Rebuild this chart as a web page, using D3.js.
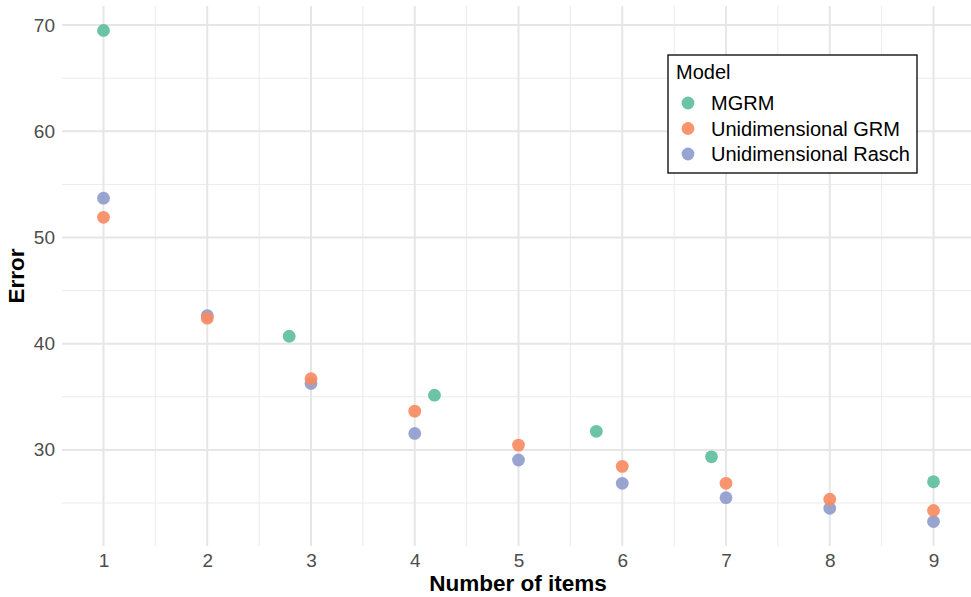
<!DOCTYPE html>
<html>
<head>
<meta charset="utf-8">
<script src="https://cdn.jsdelivr.net/npm/d3@7"></script>
<style>
  html, body { margin: 0; padding: 0; background: #fff; }
  svg { display: block; font-family: "Liberation Sans", Arial, Helvetica, sans-serif; }
</style>
</head>
<body>
<svg id="chart" width="971" height="597"></svg>
<script>
// Series: error by number of items for each model
const seriesNames = ["MGRM", "Unidimensional GRM", "Unidimensional Rasch"];
const seriesColors = ["#5CBE9C", "#F88A5E", "#8E9BCB"];

const mgrmItems  = [1, 2.79, 4.19, 5.75, 6.86, 9];
const mgrmError  = [69.5, 40.7, 35.15, 31.75, 29.35, 27.0];

const grmItems   = [1, 2, 3, 4, 5, 6, 7, 8, 9];
const grmError   = [51.9, 42.4, 36.7, 33.65, 30.45, 28.45, 26.85, 25.35, 24.3];

const raschItems = [1, 2, 3, 4, 5, 6, 7, 8, 9];
const raschError = [53.7, 42.65, 36.25, 31.55, 29.05, 26.85, 25.5, 24.5, 23.25];

const xTicks = [1, 2, 3, 4, 5, 6, 7, 8, 9];
const xMinor = [1.5, 2.5, 3.5, 4.5, 5.5, 6.5, 7.5, 8.5];
const yTicks = [30, 40, 50, 60, 70];
const yMinor = [25, 35, 45, 55, 65];

const svg = d3.select("#chart");
const panel = { left: 62, right: 975, top: 6, bottom: 546 };

const x = d3.scaleLinear().domain([0.6, 9.4]).range([panel.left, panel.right]);
const y = d3.scaleLinear().domain([20.95, 71.8]).range([panel.bottom, panel.top]);

const grid = svg.append("g");
// minor gridlines
grid.selectAll(".ymin").data(yMinor).join("line")
  .attr("x1", panel.left).attr("x2", panel.right)
  .attr("y1", d => y(d)).attr("y2", d => y(d))
  .attr("stroke", "#EBEBEB").attr("stroke-width", 1);
grid.selectAll(".xmin").data(xMinor).join("line")
  .attr("y1", panel.top).attr("y2", panel.bottom)
  .attr("x1", d => x(d)).attr("x2", d => x(d))
  .attr("stroke", "#EBEBEB").attr("stroke-width", 1);
// major gridlines
grid.selectAll(".ymaj").data(yTicks).join("line")
  .attr("x1", panel.left).attr("x2", panel.right)
  .attr("y1", d => y(d)).attr("y2", d => y(d))
  .attr("stroke", "#E6E6E6").attr("stroke-width", 2);
grid.selectAll(".xmaj").data(xTicks).join("line")
  .attr("y1", panel.top).attr("y2", panel.bottom)
  .attr("x1", d => x(d)).attr("x2", d => x(d))
  .attr("stroke", "#E6E6E6").attr("stroke-width", 2);

// axes (labels only, no domain lines)
const xAxis = svg.append("g")
  .attr("transform", `translate(0,${panel.bottom})`)
  .call(d3.axisBottom(x).tickValues(xTicks).tickSize(0).tickPadding(8).tickFormat(d3.format("d")));
xAxis.select(".domain").remove();
xAxis.selectAll("text").attr("font-size", 19).attr("fill", "#4D4D4D")
  .attr("font-family", "Liberation Sans, Arial, sans-serif");

const yAxis = svg.append("g")
  .attr("transform", `translate(${panel.left},0)`)
  .call(d3.axisLeft(y).tickValues(yTicks).tickSize(0).tickPadding(7).tickFormat(d3.format("d")));
yAxis.select(".domain").remove();
yAxis.selectAll("text").attr("font-size", 19).attr("fill", "#4D4D4D")
  .attr("font-family", "Liberation Sans, Arial, sans-serif");

// axis titles
svg.append("text")
  .attr("x", 518).attr("y", 591)
  .attr("text-anchor", "middle").attr("font-size", 22.5).attr("font-weight", "bold")
  .text("Number of items");
svg.append("text")
  .attr("transform", `translate(24,${(panel.top + panel.bottom) / 2}) rotate(-90)`)
  .attr("text-anchor", "middle").attr("font-size", 22.5).attr("font-weight", "bold")
  .text("Error");

// points
const series = [
  { name: seriesNames[2], color: seriesColors[2], xs: raschItems, ys: raschError },
  { name: seriesNames[1], color: seriesColors[1], xs: grmItems, ys: grmError },
  { name: seriesNames[0], color: seriesColors[0], xs: mgrmItems, ys: mgrmError }
];
series.forEach(s => {
  svg.append("g").selectAll("circle")
    .data(s.xs.map((v, i) => [v, s.ys[i]]))
    .join("circle")
    .attr("cx", d => x(d[0])).attr("cy", d => y(d[1]))
    .attr("r", 6.4)
    .attr("fill", s.color).attr("fill-opacity", 0.9);
});

// legend
const lg = svg.append("g").attr("transform", "translate(668,55)");
lg.append("rect").attr("width", 249).attr("height", 118)
  .attr("fill", "#fff").attr("stroke", "#000").attr("stroke-width", 1.3);
lg.append("text").attr("x", 8).attr("y", 24).attr("font-size", 20).text("Model");
seriesNames.forEach((n, i) => {
  const cy = 48 + i * 25.5;
  lg.append("circle").attr("cx", 20).attr("cy", cy).attr("r", 6.4)
    .attr("fill", seriesColors[i]).attr("fill-opacity", 0.9);
  lg.append("text").attr("x", 43).attr("y", cy + 7).attr("font-size", 20).text(n);
});
</script>
</body>
</html>
